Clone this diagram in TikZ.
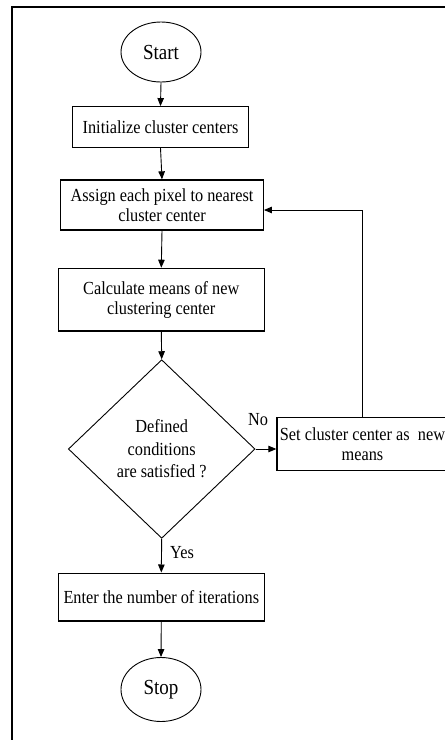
\documentclass[tikz,border=0pt]{standalone}
\usepackage{fontspec}
\setmainfont{Liberation Serif}
\usetikzlibrary{shapes.geometric,arrows.meta}
\newcommand\vstr[1]{\scalebox{1}[1.13]{#1}}
\begin{document}
\begin{tikzpicture}[x=1pt,y=-1pt,
  txt/.style={font=\fontsize{16.3}{20}\selectfont},
  procbox/.style={draw,line width=1.3pt,rectangle,inner sep=0pt,align=center,txt},
  term/.style={draw,line width=0.9pt,ellipse,inner sep=0pt,font=\fontsize{19}{22}\selectfont},
  decis/.style={draw,line width=0.9pt,diamond,inner sep=0pt,align=center,font=\fontsize{16.3}{22.5}\selectfont},
  arr/.style={line width=0.9pt,-{Triangle[length=8pt,width=6.5pt]}},
  lbl/.style={inner sep=0pt,txt}]
\useasboundingbox (0,0) rectangle (445,740);
\clip (0,0) rectangle (445,740);
\fill[white] (0,0) rectangle (445,740);
% frame
\draw[line width=1.3pt] (450,7) -- (12,7) -- (12,745);
% nodes
\node[term,minimum width=80pt,minimum height=60pt] (start) at (161,52) {\vstr{Start}};
\node[procbox,minimum width=175.6pt,minimum height=40.6pt] (init) at (160.5,127) {\vstr{Initialize cluster centers}};
\node[procbox,minimum width=202.6pt,minimum height=50pt] (assign) at (162,205) {\vstr{Assign each pixel to nearest}\\\vstr{cluster center}};
\node[procbox,minimum width=206pt,minimum height=62.7pt] (calc) at (161.3,299.7) {\vstr{Calculate means of new}\\\vstr{clustering center}};
\node[decis,minimum width=186.7pt,minimum height=178.6pt] (cond) at (161.7,449) {\vstr{Defined}\\\vstr{conditions}\\\vstr{are satisfied ?}};
\node[procbox,minimum width=171pt,minimum height=53.4pt,font=\fontsize{16.3}{19.5}\selectfont] (set) at (362.5,444) {\vstr{Set cluster center as\ \ new}\\\vstr{means}};
\node[procbox,minimum width=206pt,minimum height=47.7pt] (enter) at (161.3,597) {\vstr{Enter the number of iterations}};
\node[term,minimum width=80pt,minimum height=64pt] (stop) at (161,689.5) {\vstr{Stop}};
% connectors
\draw[arr] (start.south) -- (init.north);
\draw[arr] (init.south) -- (assign.north);
\draw[arr] (assign.south) -- (calc.north);
\draw[arr] (calc.south) -- (cond.north);
\draw[arr] (cond.east) -- (cond.east -| set.west);
\draw[arr] (set.north) |- ([yshift=-5pt]assign.east);
\draw[arr] (cond.south) -- (enter.north);
\draw[arr] (enter.south) -- (stop.north);
% labels
\node[lbl] (no) at (258,420) {\vstr{No}};
\node[lbl,anchor=west] (yes) at (170,552.7) {\vstr{Yes}};
\end{tikzpicture}
\end{document}
